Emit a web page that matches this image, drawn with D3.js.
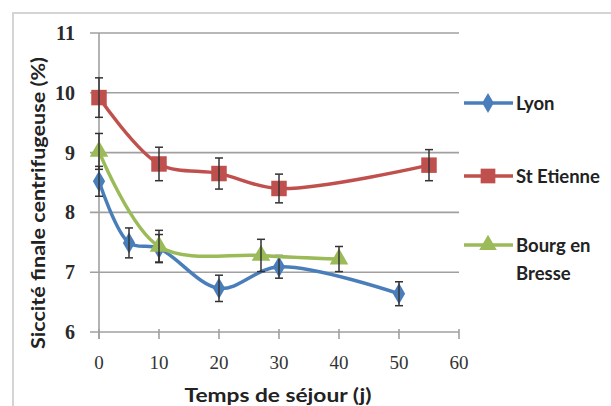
<!DOCTYPE html>
<html>
<head>
<meta charset="utf-8">
<script src="https://cdn.jsdelivr.net/npm/d3@7"></script>
<style>
  body { margin: 0; background: #fff; }
  svg { display: block; }
</style>
</head>
<body>
<div id="chart"></div>
<script>
// values
const lyonX = [0, 5, 10, 20, 30, 50]
const lyonY = [8.52, 7.49, 7.40, 6.73, 7.09, 6.64]
const lyonErr = [0.25, 0.25, 0.23, 0.22, 0.19, 0.2]

const stEtienneX = [0, 10, 20, 30, 55]
const stEtienneY = [9.92, 8.81, 8.65, 8.40, 8.79]
const stEtienneErr = [0.33, 0.28, 0.26, 0.24, 0.26]

const bourgX = [0, 10, 27, 40]
const bourgY = [9.02, 7.43, 7.28, 7.22]
const bourgErr = [0.3, 0.27, 0.27, 0.21]

const xTicks = [0, 10, 20, 30, 40, 50, 60]
const yTicks = [6, 7, 8, 9, 10, 11]
const seriesNames = ["Lyon", "St Etienne", "Bourg en Bresse"]

const W = 611, H = 406
const svg = d3.select("#chart").append("svg").attr("width", W).attr("height", H)

// outer frame of the chart area
svg.append("rect").attr("x", 13).attr("y", 13).attr("width", W).attr("height", H)
  .attr("fill", "#fff").attr("stroke", "#d4d4d4").attr("stroke-width", 2)

const x = d3.scaleLinear().domain([0, 60]).range([99, 459])
const y = d3.scaleLinear().domain([6, 11]).range([332, 33])

// gridlines
svg.append("g").selectAll("line").data(yTicks).join("line")
  .attr("x1", 90).attr("x2", x(60))
  .attr("y1", d => y(d)).attr("y2", d => y(d))
  .attr("stroke", "#a0a0a0").attr("stroke-width", 1.6)

// y axis line
svg.append("line").attr("x1", x(0)).attr("x2", x(0)).attr("y1", y(11)).attr("y2", y(6) + 7)
  .attr("stroke", "#a0a0a0").attr("stroke-width", 1.6)

// x ticks
svg.append("g").selectAll("line").data(xTicks).join("line")
  .attr("x1", d => x(d)).attr("x2", d => x(d))
  .attr("y1", y(6) - 3).attr("y2", y(6) + 7)
  .attr("stroke", "#a0a0a0").attr("stroke-width", 1.6)

// tick labels
svg.append("g").selectAll("text").data(yTicks).join("text")
  .attr("x", 75).attr("y", d => y(d))
  .attr("text-anchor", "end").attr("dominant-baseline", "central")
  .attr("font-family", "Liberation Serif").attr("font-weight", "bold").attr("font-size", 20)
  .attr("fill", "#2a2a2a").text(d => d)

svg.append("g").selectAll("text").data(xTicks).join("text")
  .attr("x", d => x(d)).attr("y", 362)
  .attr("text-anchor", "middle").attr("dominant-baseline", "central")
  .attr("font-family", "Liberation Serif").attr("font-size", 19)
  .attr("fill", "#333").text(d => d)

// axis titles
svg.append("text")
  .attr("transform", "translate(37,203) rotate(-90)")
  .attr("text-anchor", "middle").attr("dominant-baseline", "central")
  .attr("font-family", "Lato").attr("font-weight", "bold").attr("font-size", 19)
  .attr("textLength", 292).attr("lengthAdjust", "spacingAndGlyphs")
  .attr("fill", "#222").text("Siccité finale centrifugeuse (%)")

svg.append("text")
  .attr("x", 278).attr("y", 402)
  .attr("text-anchor", "middle")
  .attr("font-family", "Lato").attr("font-weight", "bold").attr("font-size", 19)
  .attr("textLength", 187).attr("lengthAdjust", "spacingAndGlyphs")
  .attr("fill", "#222").text("Temps de séjour (j)")

const series = [
  {name: seriesNames[0], xs: lyonX, ys: lyonY, err: lyonErr, color: "#4a7ebb", mark: d3.symbolDiamond, size: 130},
  {name: seriesNames[1], xs: stEtienneX, ys: stEtienneY, err: stEtienneErr, color: "#c0504d", mark: d3.symbolSquare, size: 240},
  {name: seriesNames[2], xs: bourgX, ys: bourgY, err: bourgErr, color: "#9bbb59", mark: d3.symbolTriangle, size: 150}
]

const line = d3.line().x(d => x(d[0])).y(d => y(d[1])).curve(d3.curveCatmullRom)

series.forEach(s => {
  const pts = s.xs.map((v, i) => [v, s.ys[i], s.err[i]])
  const g = svg.append("g")
  g.append("path").attr("d", line(pts))
    .attr("fill", "none").attr("stroke", s.color).attr("stroke-width", 3.5)
  g.selectAll("path.m").data(pts).join("path").attr("class", "m")
    .attr("transform", d => `translate(${x(d[0])},${y(d[1])})`)
    .attr("d", d3.symbol().type(s.mark).size(s.size))
    .attr("fill", s.color)
  // error bars
  const eb = g.selectAll("g.eb").data(pts).join("g").attr("class", "eb")
    .attr("stroke", "#333").attr("stroke-width", 1.5)
  eb.append("line").attr("x1", d => x(d[0])).attr("x2", d => x(d[0]))
    .attr("y1", d => y(d[1] + d[2])).attr("y2", d => y(d[1] - d[2]))
  eb.append("line").attr("x1", d => x(d[0]) - 4).attr("x2", d => x(d[0]) + 4)
    .attr("y1", d => y(d[1] + d[2])).attr("y2", d => y(d[1] + d[2]))
  eb.append("line").attr("x1", d => x(d[0]) - 4).attr("x2", d => x(d[0]) + 4)
    .attr("y1", d => y(d[1] - d[2])).attr("y2", d => y(d[1] - d[2]))
})

// legend
const legY = [103, 176, 245]
series.forEach((s, i) => {
  const g = svg.append("g")
  g.append("line").attr("x1", 464).attr("x2", 513).attr("y1", legY[i]).attr("y2", legY[i])
    .attr("stroke", s.color).attr("stroke-width", 3.5)
  g.append("path").attr("transform", `translate(488,${legY[i]})`)
    .attr("d", d3.symbol().type(s.mark).size(s.size * 0.9)).attr("fill", s.color)
  const t = g.append("text").attr("x", 516).attr("y", legY[i])
    .attr("font-family", "Lato").attr("font-weight", "bold").attr("font-size", 18.5)
    .attr("fill", "#222").attr("dominant-baseline", "central")
  if (i === 2) {
    t.append("tspan").attr("x", 516).text("Bourg en")
    t.append("tspan").attr("x", 516).attr("dy", 28).text("Bresse")
  } else {
    t.text(s.name)
  }
})
</script>
</body>
</html>
